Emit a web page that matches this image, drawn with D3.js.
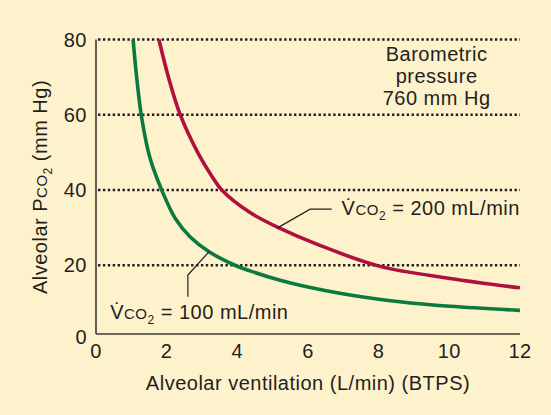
<!DOCTYPE html>
<html>
<head>
<meta charset="utf-8">
<script src="https://cdn.jsdelivr.net/npm/d3@7"></script>
<style>
  html, body { margin: 0; padding: 0; background: #fef2cc; }
  svg { display: block; font-family: "Liberation Sans", Arial, sans-serif; }
</style>
</head>
<body>
<svg id="chart" width="551" height="415"></svg>
<script>
"use strict"

// alveolar ventilation (L/min) and PCO2 (mm Hg)
var vent100 = [1.05, 1.15, 1.28, 1.48, 1.62, 1.86, 2.24, 2.66, 3.20, 3.93, 4.36, 5.21, 5.77, 7.19, 8.60, 10.02, 12];
var pco100  = [80, 70.0, 60.0, 50.2, 45.8, 40, 32.5, 27.6, 23.6, 20, 18.5, 16.0, 14.7, 12.1, 10.3, 9.1, 8.0];

var vent200 = [1.78, 2.05, 2.38, 2.90, 3.27, 3.56, 4.36, 5.21, 6.25, 8.04, 10.02, 12];
var pco200  = [80, 70.0, 60.1, 49.6, 43.8, 40, 34.0, 29.8, 25.6, 19.7, 16.5, 14.0];

var xTicks = [0, 2, 4, 6, 8, 10, 12];
var yTicks = [0, 20, 40, 60, 80];
var gridValues = [20, 40, 60, 80];

var svg = d3.select("#chart");

var x = d3.scaleLinear().domain([0, 12]).range([96, 520]);
var y = d3.scaleLinear().domain([0, 80]).range([340.5, 39.5]);
var frameBottom = 334;

// dotted grid lines
svg.append("g")
    .selectAll("line")
    .data(gridValues)
    .enter()
    .append("line")
    .attr("x1", x(0) + 2)
    .attr("x2", x(12))
    .attr("y1", function (d) { return y(d); })
    .attr("y2", function (d) { return y(d); })
    .attr("stroke", "#231f20")
    .attr("stroke-width", 2.4)
    .attr("stroke-dasharray", "2.4,2.5");

// axes lines
svg.append("line")
    .attr("x1", x(0)).attr("x2", x(0))
    .attr("y1", y(80)).attr("y2", frameBottom)
    .attr("stroke", "#3a3a3a").attr("stroke-width", 1.6);
svg.append("line")
    .attr("x1", x(0)).attr("x2", x(12))
    .attr("y1", frameBottom).attr("y2", frameBottom)
    .attr("stroke", "#3a3a3a").attr("stroke-width", 1.6);

// tick labels
var ticks = svg.append("g")
    .attr("fill", "#231f20")
    .style("font-size", "20px")
    .style("letter-spacing", "0.5px");

ticks.append("g")
    .selectAll("text")
    .data(xTicks).enter()
    .append("text")
    .attr("x", function (d) { return x(d); })
    .attr("y", 358)
    .attr("text-anchor", "middle")
    .text(function (d) { return d; });

ticks.append("g")
    .selectAll("text")
    .data(yTicks).enter()
    .append("text")
    .attr("x", 87)
    .attr("y", function (d) { return Math.min(y(d), frameBottom + 3) + 7; })
    .attr("text-anchor", "end")
    .text(function (d) { return d; });

// curves
var line = d3.line()
    .x(function (d) { return x(d[0]); })
    .y(function (d) { return y(d[1]); })
    .curve(d3.curveCatmullRom.alpha(0.5));

var series = [
    {name: "v100", color: "#0b7a3e", data: d3.zip(vent100, pco100)},
    {name: "v200", color: "#b0103f", data: d3.zip(vent200, pco200)}
];

svg.selectAll("path.line")
    .data(series)
    .enter()
    .append("path")
    .attr("class", "line")
    .attr("d", function (d) { return line(d.data); })
    .attr("fill", "none")
    .attr("stroke", function (d) { return d.color; })
    .attr("stroke-width", 3.6);

// leader lines
var leaders = [
    [[3.20, 23.6], [2.60, 17.4], [2.60, 11.6]],
    [[5.15, 30.0], [6.06, 34.9], [6.67, 34.9]]
];
svg.selectAll("path.leader")
    .data(leaders)
    .enter()
    .append("path")
    .attr("class", "leader")
    .attr("d", d3.line().x(function (d) { return x(d[0]); }).y(function (d) { return y(d[1]); }))
    .attr("fill", "none")
    .attr("stroke", "#231f20")
    .attr("stroke-width", 1.2);

var txt = svg.append("g")
    .attr("fill", "#231f20")
    .style("font-size", "20px")
    .style("letter-spacing", "0.5px");

function vco2Label(xv, yv, amount) {
    var t = txt.append("text").attr("x", x(xv)).attr("y", y(yv));
    t.append("tspan").text("V\u0307");
    t.append("tspan").style("font-size", "15px").text("CO");
    t.append("tspan").style("font-size", "12px").attr("dy", 5).text("2");
    t.append("tspan").attr("dy", -5).text(" = " + amount + " mL/min");
}
vco2Label(0.4, 5.6, 100);
vco2Label(6.95, 33.3, 200);

// barometric note
var baro = ["Barometric", "pressure", "760 mm Hg"];
txt.append("g")
    .selectAll("text")
    .data(baro).enter()
    .append("text")
    .attr("x", x(9.64))
    .attr("y", function (d, i) { return 60.7 + i * 22.2; })
    .attr("text-anchor", "middle")
    .text(function (d) { return d; });

// axis titles
txt.append("text")
    .attr("x", 308)
    .attr("y", 390)
    .attr("text-anchor", "middle")
    .text("Alveolar ventilation (L/min) (BTPS)");

var yt = txt.append("text")
    .attr("transform", "translate(47,187) rotate(-90)")
    .attr("text-anchor", "middle");
yt.append("tspan").text("Alveolar P");
yt.append("tspan").style("font-size", "15px").text("CO");
yt.append("tspan").style("font-size", "12px").attr("dy", 5).text("2");
yt.append("tspan").attr("dy", -5).text(" (mm Hg)");
</script>
</body>
</html>
